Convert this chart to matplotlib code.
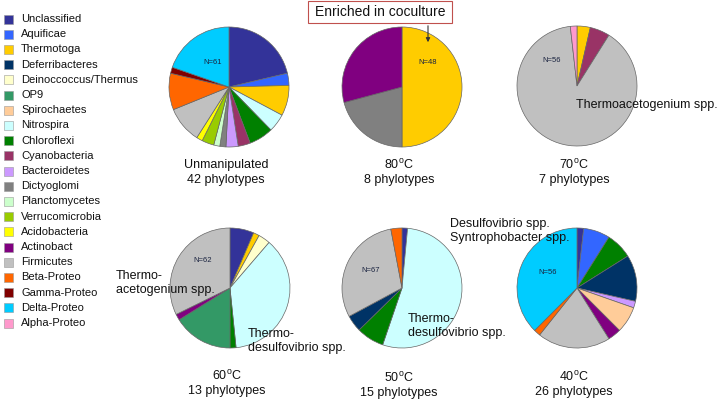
import matplotlib
matplotlib.use("Agg")
import matplotlib.pyplot as plt
from matplotlib.patches import Rectangle

plt.rcParams['font.family'] = ['Liberation Sans', 'DejaVu Sans']
plt.rcParams['mathtext.fontset'] = 'custom'
plt.rcParams['mathtext.rm'] = 'Liberation Sans'

# 门类及颜色（Excel 调色板）
categories = ["Unclassified", "Aquificae", "Thermotoga", "Deferribacteres",
              "Deinoccoccus/Thermus", "OP9", "Spirochaetes", "Nitrospira",
              "Chloroflexi", "Cyanobacteria", "Bacteroidetes", "Dictyoglomi",
              "Planctomycetes", "Verrucomicrobia", "Acidobacteria", "Actinobact",
              "Firmicutes", "Beta-Proteo", "Gamma-Proteo", "Delta-Proteo",
              "Alpha-Proteo"]
cat_colors = ["#333399", "#3366FF", "#FFCC00", "#003366", "#FFFFCC", "#339966",
              "#FFCC99", "#CCFFFF", "#008000", "#993366", "#CC99FF", "#808080",
              "#CCFFCC", "#99CC00", "#FFFF00", "#800080", "#C0C0C0", "#FF6600",
              "#800000", "#00CCFF", "#FF99CC"]
color_of = dict(zip(categories, cat_colors))

# 各样品的克隆数（顺时针，从12点开始）
unmanip_groups = ["Unclassified", "Aquificae", "Thermotoga", "Nitrospira", "Chloroflexi",
                  "Cyanobacteria", "Bacteroidetes", "Dictyoglomi", "Planctomycetes",
                  "Verrucomicrobia", "Acidobacteria", "Firmicutes", "Beta-Proteo",
                  "Gamma-Proteo", "Delta-Proteo"]
unmanip_counts = [13, 2, 5, 3, 4, 2, 2, 1, 1, 2, 1, 6, 6, 1, 12]

t80_groups = ["Thermotoga", "Dictyoglomi", "Actinobact"]
t80_counts = [24, 10, 14]

t70_groups = ["Thermotoga", "Cyanobacteria", "Firmicutes", "Alpha-Proteo"]
t70_counts = [2, 3, 50, 1]

t60_groups = ["Unclassified", "Thermotoga", "Deinoccoccus/Thermus", "Nitrospira",
              "Chloroflexi", "OP9", "Actinobact", "Firmicutes"]
t60_counts = [4, 1, 2, 23, 1, 10, 1, 20]

t50_groups = ["Unclassified", "Nitrospira", "Chloroflexi", "Deferribacteres",
              "Firmicutes", "Beta-Proteo"]
t50_counts = [1, 36, 5, 3, 20, 2]

t40_groups = ["Unclassified", "Aquificae", "Chloroflexi", "Deferribacteres",
              "Bacteroidetes", "Spirochaetes", "Actinobact", "Firmicutes",
              "Beta-Proteo", "Delta-Proteo"]
t40_counts = [1, 4, 4, 7, 1, 4, 2, 11, 1, 21]

W, H = 719, 403
fig = plt.figure(figsize=(W / 100, H / 100), dpi=100)
ax = fig.add_axes([0, 0, 1, 1])

deg = "$^{\\mathrm{o}}$C"
pies = [
    # groups, counts, center(px), N label pos, title, phylotypes
    (unmanip_groups, unmanip_counts, (229, 87), (213, 63), "Unmanipulated", "42 phylotypes", 165),
    (t80_groups, t80_counts, (402, 87), (428, 63), "80" + deg, "8 phylotypes", 165),
    (t70_groups, t70_counts, (577, 86), (552, 61), "70" + deg, "7 phylotypes", 165),
    (t60_groups, t60_counts, (230, 288), (203, 260), "60" + deg, "13 phylotypes", 376),
    (t50_groups, t50_counts, (402, 288), (371, 271), "50" + deg, "15 phylotypes", 378),
    (t40_groups, t40_counts, (577, 288), (548, 272), "40" + deg, "26 phylotypes", 377),
]
radius = 60

for groups, counts, (cx, cy), (nx, ny), title, phylo, ty in pies:
    ax.pie(counts, colors=[color_of[g] for g in groups], startangle=90,
           counterclock=False, center=(cx, H - cy), radius=radius,
           wedgeprops=dict(edgecolor="#666666", linewidth=0.5))
    ax.text(nx, H - ny, "N=%d" % sum(counts), fontsize=5.5, color="#1a2340",
            ha="center", va="center")
    ax.text(cx - 3, H - ty, title, fontsize=9, ha="center", va="center", color="#111111")
    ax.text(cx - 3, H - ty - 15, phylo, fontsize=9, ha="center", va="center", color="#111111")

# 图例
for i, (name, col) in enumerate(zip(categories, cat_colors)):
    y = 19 + i * 15.2
    ax.add_patch(Rectangle((4, H - y - 4.5), 9, 9, facecolor=col,
                           edgecolor="#999999", linewidth=0.4))
    ax.text(21, H - y, name, fontsize=8, va="center", ha="left", color="#111111")

# 物种标注
ax.text(576, H - 105, "Thermoacetogenium spp.", fontsize=9, va="center", color="#111111")
ax.text(116, H - 283, "Thermo-\nacetogenium spp.", fontsize=9, va="center",
        linespacing=1.15, color="#111111")
ax.text(248, H - 341, "Thermo-\ndesulfovibrio spp.", fontsize=9, va="center",
        linespacing=1.15, color="#111111")
ax.text(408, H - 326, "Thermo-\ndesulfovibrio spp.", fontsize=9, va="center",
        linespacing=1.15, color="#111111")
ax.text(450, H - 231, "Desulfovibrio spp.\nSyntrophobacter spp.", fontsize=9,
        va="center", linespacing=1.15, color="#111111")

# 共培养富集标注
ax.add_patch(Rectangle((308, H - 23), 144, 22, facecolor="white",
                       edgecolor="#c0504d", linewidth=0.8))
ax.text(380, H - 12, "Enriched in coculture", fontsize=10, ha="center",
        va="center", color="#111111")
ax.annotate("", xy=(428, H - 45), xytext=(428, H - 23),
            arrowprops=dict(arrowstyle="-|>", color="#333333", lw=0.8,
                            mutation_scale=6))

ax.set_xlim(0, W)
ax.set_ylim(0, H)
ax.set_aspect("auto")
ax.axis("off")

plt.savefig("out.png", dpi=100)
plt.close()
